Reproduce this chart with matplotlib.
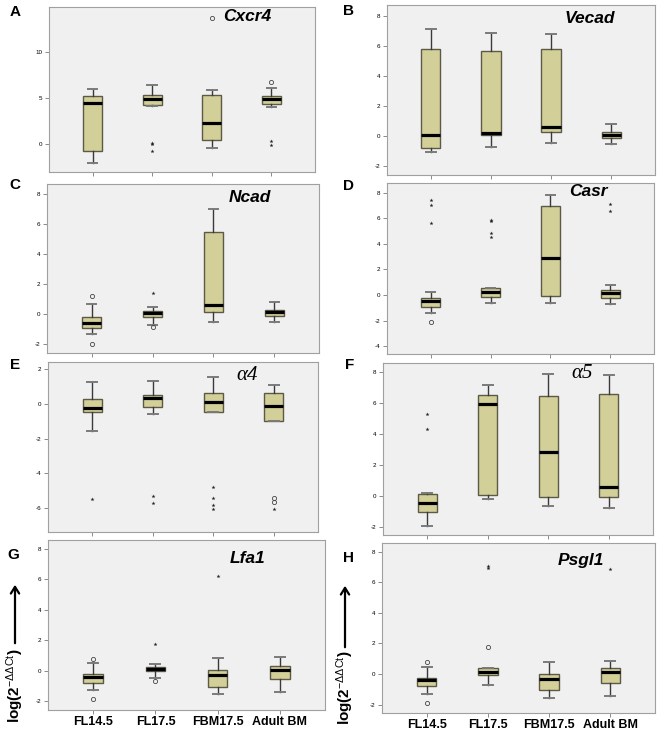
import matplotlib.pyplot as plt
from matplotlib.patches import FancyArrowPatch

plt.rcParams['font.family'] = ['Liberation Sans', 'DejaVu Sans']
plt.rcParams['mathtext.fontset'] = 'custom'
plt.rcParams['mathtext.rm'] = 'Liberation Sans'
plt.rcParams['mathtext.it'] = 'Liberation Sans:italic'

groups = ["FL14.5", "FL17.5", "FBM17.5", "Adult BM"]

# each box: (whisker low, Q1, median, Q3, whisker high)
cxcr4_box = [(-2.05, -0.7, 4.45, 5.2, 6.0), (4.2, 4.25, 4.9, 5.35, 6.45),
             (-0.45, 0.45, 2.35, 5.3, 5.9), (4.1, 4.4, 4.9, 5.2, 6.1)]
cxcr4_circ = [[], [], [13.75], [6.8]]
cxcr4_star = [[], [0.12, 0.05, -0.7], [], [0.35, -0.1]]

vecad_box = [(-1.09, -0.82, 0.09, 5.78, 7.13), (-0.76, 0.04, 0.18, 5.62, 6.84),
             (-0.49, 0.24, 0.58, 5.78, 6.78), (-0.56, -0.11, 0.09, 0.24, 0.8)]
vecad_circ = [[], [], [], []]
vecad_star = [[], [], [], []]

ncad_box = [(-1.33, -0.93, -0.58, -0.22, 0.69), (-0.76, -0.18, 0.09, 0.2, 0.49),
            (-0.56, 0.13, 0.58, 5.49, 7.02), (-0.56, -0.11, 0.11, 0.27, 0.8)]
ncad_circ = [[1.2, -2.0], [-0.84], [], []]
ncad_star = [[], [1.4], [], []]

casr_box = [(-1.43, -0.94, -0.44, -0.26, 0.26), (-0.6, -0.16, 0.21, 0.52, 0.52),
            (-0.65, -0.05, 2.91, 6.96, 7.84), (-0.73, -0.23, 0.13, 0.36, 0.78)]
casr_circ = [[-2.08], [], [], []]
casr_star = [[7.45, 7.07, 5.64], [5.9, 5.8, 4.86, 4.55], [], [7.14, 6.55]]

a4_box = [(-1.58, -0.48, -0.21, 0.29, 1.29), (-0.6, -0.17, 0.33, 0.54, 1.33),
          (-0.44, -0.44, 0.1, 0.65, 1.54), (-0.98, -0.98, -0.1, 0.65, 1.12)]
a4_circ = [[], [], [], [-5.46, -5.67]]
a4_star = [[-5.5], [-5.3, -5.73], [-4.81, -5.46, -5.85, -6.06], [-6.08]]

a5_box = [(-1.9, -1.04, -0.46, 0.13, 0.2), (-0.17, 0.11, 5.98, 6.54, 7.2),
          (-0.63, -0.02, 2.85, 6.48, 7.87), (-0.74, -0.02, 0.59, 6.61, 7.83)]
a5_circ = [[], [], [], []]
a5_star = [[5.3, 4.33], [], [], []]

lfa1_box = [(-1.3, -0.81, -0.44, -0.24, 0.48), (-0.48, -0.04, 0.11, 0.24, 0.4),
            (-1.54, -1.08, -0.31, 0.02, 0.84), (-1.4, -0.59, 0.04, 0.33, 0.88)]
lfa1_circ = [[0.75, -1.85], [-0.7], [], []]
lfa1_star = [[], [1.78], [6.22], []]

psgl1_box = [(-1.32, -0.81, -0.4, -0.24, 0.48), (-0.75, -0.07, 0.15, 0.42, 0.42),
             (-1.56, -1.03, -0.35, 0.0, 0.81), (-1.43, -0.62, 0.15, 0.42, 0.88)]
psgl1_circ = [[0.77, -1.89], [1.78], [], []]
psgl1_star = [[], [7.08, 6.9], [], [6.86]]

W, H = 661, 733
fig = plt.figure(figsize=(W / 100, H / 100), dpi=100)

# letter, gene, boxes, circles, stars, ylim, yticks, (left, right, top, bottom) px, title pos
panels = [
    ("A", "Cxcr4", cxcr4_box, cxcr4_circ, cxcr4_star, (-3, 14.9), [0, 5, 10], (49, 315, 7, 172), (0.745, 0.94)),
    ("B", "Vecad", vecad_box, vecad_circ, vecad_star, (-2.6, 8.7), [-2, 0, 2, 4, 6, 8], (387, 655, 5, 175), (0.757, 0.92)),
    ("C", "Ncad", ncad_box, ncad_circ, ncad_star, (-2.6, 8.67), [-2, 0, 2, 4, 6, 8], (47, 319, 184, 353), (0.746, 0.92)),
    ("D", "Casr", casr_box, casr_circ, casr_star, (-4.6, 8.75), [-4, -2, 0, 2, 4, 6, 8], (387, 654, 183, 354), (0.753, 0.95)),
    ("E", "α4", a4_box, a4_circ, a4_star, (-7.4, 2.43), [-6, -4, -2, 0, 2], (48, 318, 362, 532), (0.737, 0.92)),
    ("F", "α5", a5_box, a5_circ, a5_star, (-2.5, 8.6), [-2, 0, 2, 4, 6, 8], (383, 653, 363, 535), (0.737, 0.94)),
    ("G", "Lfa1", lfa1_box, lfa1_circ, lfa1_star, (-2.6, 8.6), [-2, 0, 2, 4, 6, 8], (48, 325, 540, 710), (0.72, 0.89)),
    ("H", "Psgl1", psgl1_box, psgl1_circ, psgl1_star, (-2.55, 8.56), [-2, 0, 2, 4, 6, 8], (382, 655, 543, 713), (0.73, 0.90)),
]

pos = [1, 2, 3, 4]
for letter, gene, boxes, circ, star, ylim, yticks, (l, r, t, b), tpos in panels:
    ax = fig.add_axes([l / W, 1 - b / H, (r - l) / W, (b - t) / H])
    ax.set_facecolor('#f0f0f0')
    stats = [dict(whislo=s[0], q1=s[1], med=s[2], q3=s[3], whishi=s[4], fliers=[]) for s in boxes]
    ax.bxp(stats, positions=pos, widths=0.32, capwidths=0.16, showfliers=False, patch_artist=True,
           boxprops=dict(facecolor='#d3cf99', edgecolor='#5c5a47', linewidth=1.0),
           medianprops=dict(color='black', linewidth=2.3, solid_capstyle='butt'),
           whiskerprops=dict(color='#3a3a3a', linewidth=1.0),
           capprops=dict(color='#7a7a7a', linewidth=1.4))
    for p, vals in zip(pos, circ):
        ax.plot([p] * len(vals), vals, 'o', ms=3, mfc='none', mec='#444444', mew=0.6)
    for p, vals in zip(pos, star):
        ax.plot([p] * len(vals), vals, '*', ms=3, color='#222222', mew=0)
    ax.set_xlim(0.27, 4.73)
    ax.set_ylim(*ylim)
    ax.set_yticks(yticks)
    ax.set_yticklabels([str(v) for v in yticks], fontsize=4.5)
    ax.set_xticks(pos)
    if letter in ("G", "H"):
        ax.set_xticklabels(groups, fontsize=9, fontweight='bold')
    else:
        ax.set_xticklabels([])
    ax.tick_params(axis='both', length=3, width=0.6, color='#777777', pad=2)
    ax.tick_params(axis='x', pad=1)
    for sp in ax.spines.values():
        sp.set_color('#a0a0a0')
        sp.set_linewidth(0.8)
    if gene.startswith('α'):
        ax.text(tpos[0], tpos[1], gene, transform=ax.transAxes, ha='center', va='center',
                fontsize=15, fontstyle='italic', family=['Liberation Serif', 'DejaVu Serif'])
    else:
        ax.text(tpos[0], tpos[1], gene, transform=ax.transAxes, ha='center', va='center',
                fontsize=12.5, fontweight='bold', fontstyle='italic')

# panel letters
letters = {"A": (15, 12), "B": (348, 11), "C": (15, 185), "D": (348, 186),
           "E": (15, 365), "F": (350, 365), "G": (13, 555), "H": (348, 558)}
for k, (x, y) in letters.items():
    fig.text(x / W, 1 - y / H, k, ha='center', va='center', fontsize=11, fontweight='bold')

# y-axis labels with arrows on bottom row
for x, ytxt, ytop, ybot in [(15, 686, 582, 646), (345, 688, 583, 650)]:
    fig.text(x / W, 1 - ytxt / H, r"log(2$^{-\Delta\Delta \mathrm{Ct}}$)", rotation=90,
             ha='center', va='center', fontsize=11, fontweight='bold')
    fig.add_artist(FancyArrowPatch((x / W, 1 - ybot / H), (x / W, 1 - ytop / H),
                                   transform=fig.transFigure, arrowstyle='->,head_width=0.25,head_length=0.4',
                                   mutation_scale=12, lw=1.6, color='black'))

fig.savefig('out.png', dpi=100)
